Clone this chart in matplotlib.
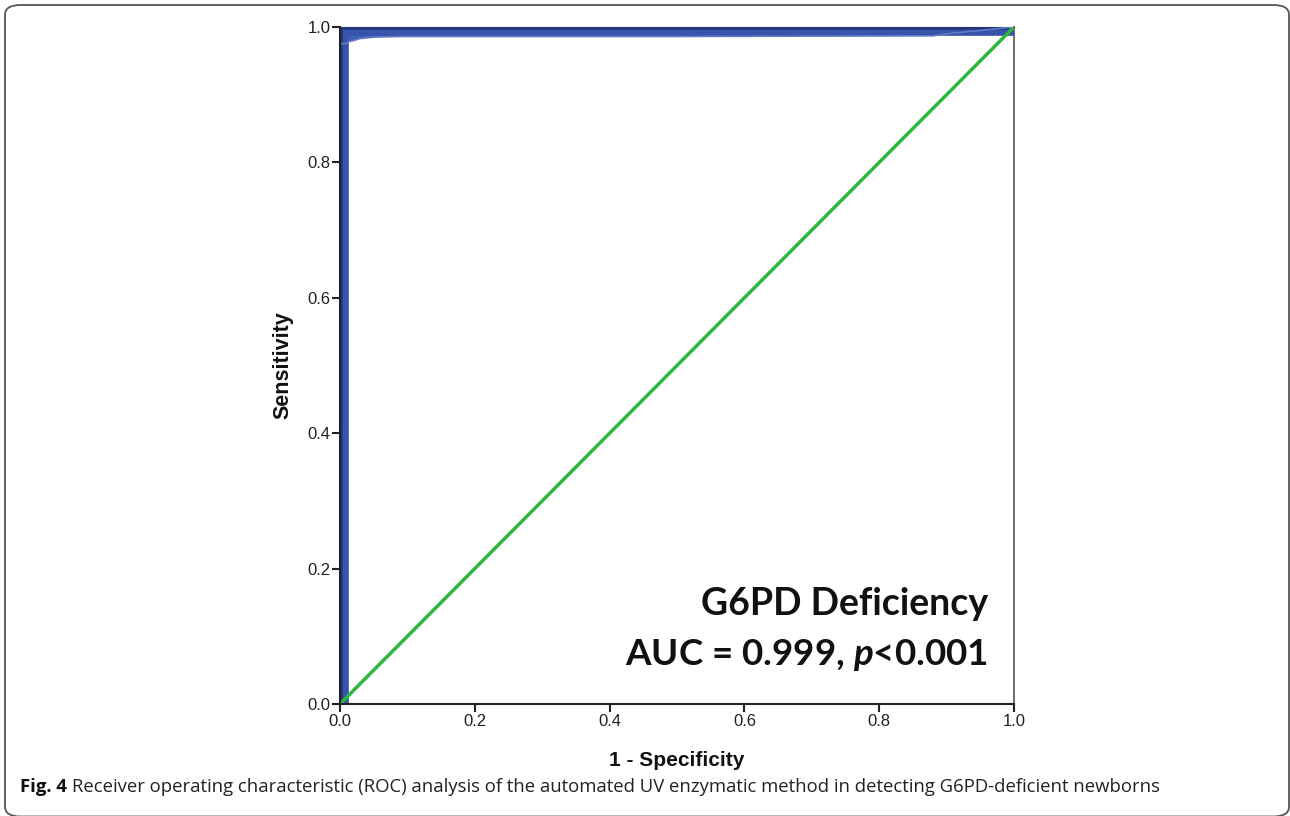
import matplotlib
matplotlib.use("Agg")
import matplotlib.pyplot as plt
from matplotlib.patches import FancyBboxPatch

plt.rcParams["mathtext.fontset"] = "custom"
plt.rcParams["mathtext.it"] = "Lato:italic:bold"
plt.rcParams["mathtext.rm"] = "Lato:bold"

# ROC curve
fpr = [0.0, 0.0, 0.012, 0.012, 0.02, 0.03, 0.05, 0.09, 0.5, 0.88, 0.9, 1.0]
tpr = [0.0, 0.975, 0.976, 0.978, 0.980, 0.983, 0.985, 0.986, 0.986, 0.987, 0.990, 1.0]
ref_x = [0.0, 1.0]
ref_y = [0.0, 1.0]
ticks = [0.0, 0.2, 0.4, 0.6, 0.8, 1.0]
tick_labels = ["0.0", "0.2", "0.4", "0.6", "0.8", "1.0"]

fig = plt.figure(figsize=(12.9, 8.16), dpi=100)

# rounded frame
frame = FancyBboxPatch((5 / 1290, -0.5 / 816), 1284 / 1290, 811.5 / 816,
                       boxstyle="round,pad=0,rounding_size=0.012",
                       transform=fig.transFigure, fill=False,
                       edgecolor="#555555", linewidth=1.3)
fig.patches.append(frame)

ax = fig.add_axes([340 / 1290, 112 / 816, 674 / 1290, 677 / 816])
ax.set_xlim(0, 1)
ax.set_ylim(0, 1)

# blue ROC band
poly_x = fpr + [0.0]
poly_y = tpr + [1.0]
ax.fill(poly_x, poly_y, color="#3f5eb6", zorder=2, linewidth=0)
ax.plot([0, 0, 1], [0, 1, 1], color="#3753ab", linewidth=12, zorder=3,
        solid_joinstyle="miter", solid_capstyle="butt")
ax.plot([0, 0, 1], [0, 1, 1], color="#22367d", linewidth=4, zorder=3,
        solid_joinstyle="miter", solid_capstyle="butt")
ax.plot(fpr[1:], tpr[1:], color="#5f7bc8", linewidth=1.2, zorder=3)

ax.plot(ref_x, ref_y, color="#2db83d", linewidth=2.5, zorder=4)

for s in ["left", "bottom"]:
    ax.spines[s].set_color("#222222")
    ax.spines[s].set_linewidth(1.5)
    ax.spines[s].set_zorder(5)
ax.spines["right"].set_color("#555555")
ax.spines["right"].set_linewidth(1.2)
ax.spines["top"].set_color("#243b86")

ax.set_xticks(ticks)
ax.set_xticklabels(tick_labels)
ax.set_yticks(ticks)
ax.set_yticklabels(tick_labels)
ax.tick_params(axis="both", direction="out", length=6, width=1.5, color="#222222",
               labelsize=12, labelcolor="#222222", pad=1)
for lab in ax.get_xticklabels() + ax.get_yticklabels():
    lab.set_family("Liberation Sans")

ax.set_xlabel("1 - Specificity", fontsize=15, fontweight="bold",
              family="Liberation Sans", labelpad=16, color="#111111")
ax.set_ylabel("Sensitivity", fontsize=15.5, fontweight="bold",
              family="Liberation Sans", labelpad=10, color="#111111")

ax.text(0.962, 0.132, "G6PD Deficiency", transform=ax.transAxes, ha="right",
        va="baseline", fontsize=27, fontweight="bold", family="Lato", color="#111111")
ax.text(0.962, 0.058, r"AUC = 0.999, $\mathit{p}$<0.001", transform=ax.transAxes,
        ha="right", va="baseline", fontsize=26.5, fontweight="bold", family="Lato",
        color="#111111")

fig.text(20 / 1290, 1 - 792 / 816, "Fig. 4", fontsize=13.3, fontweight="bold",
         family="Open Sans", color="#111111", va="baseline")
fig.text(72 / 1290, 1 - 792 / 816,
         "Receiver operating characteristic (ROC) analysis of the automated UV enzymatic method in detecting G6PD-deficient newborns",
         fontsize=13.3, family="Open Sans", color="#222222", va="baseline")

fig.savefig("out.png", dpi=100)
